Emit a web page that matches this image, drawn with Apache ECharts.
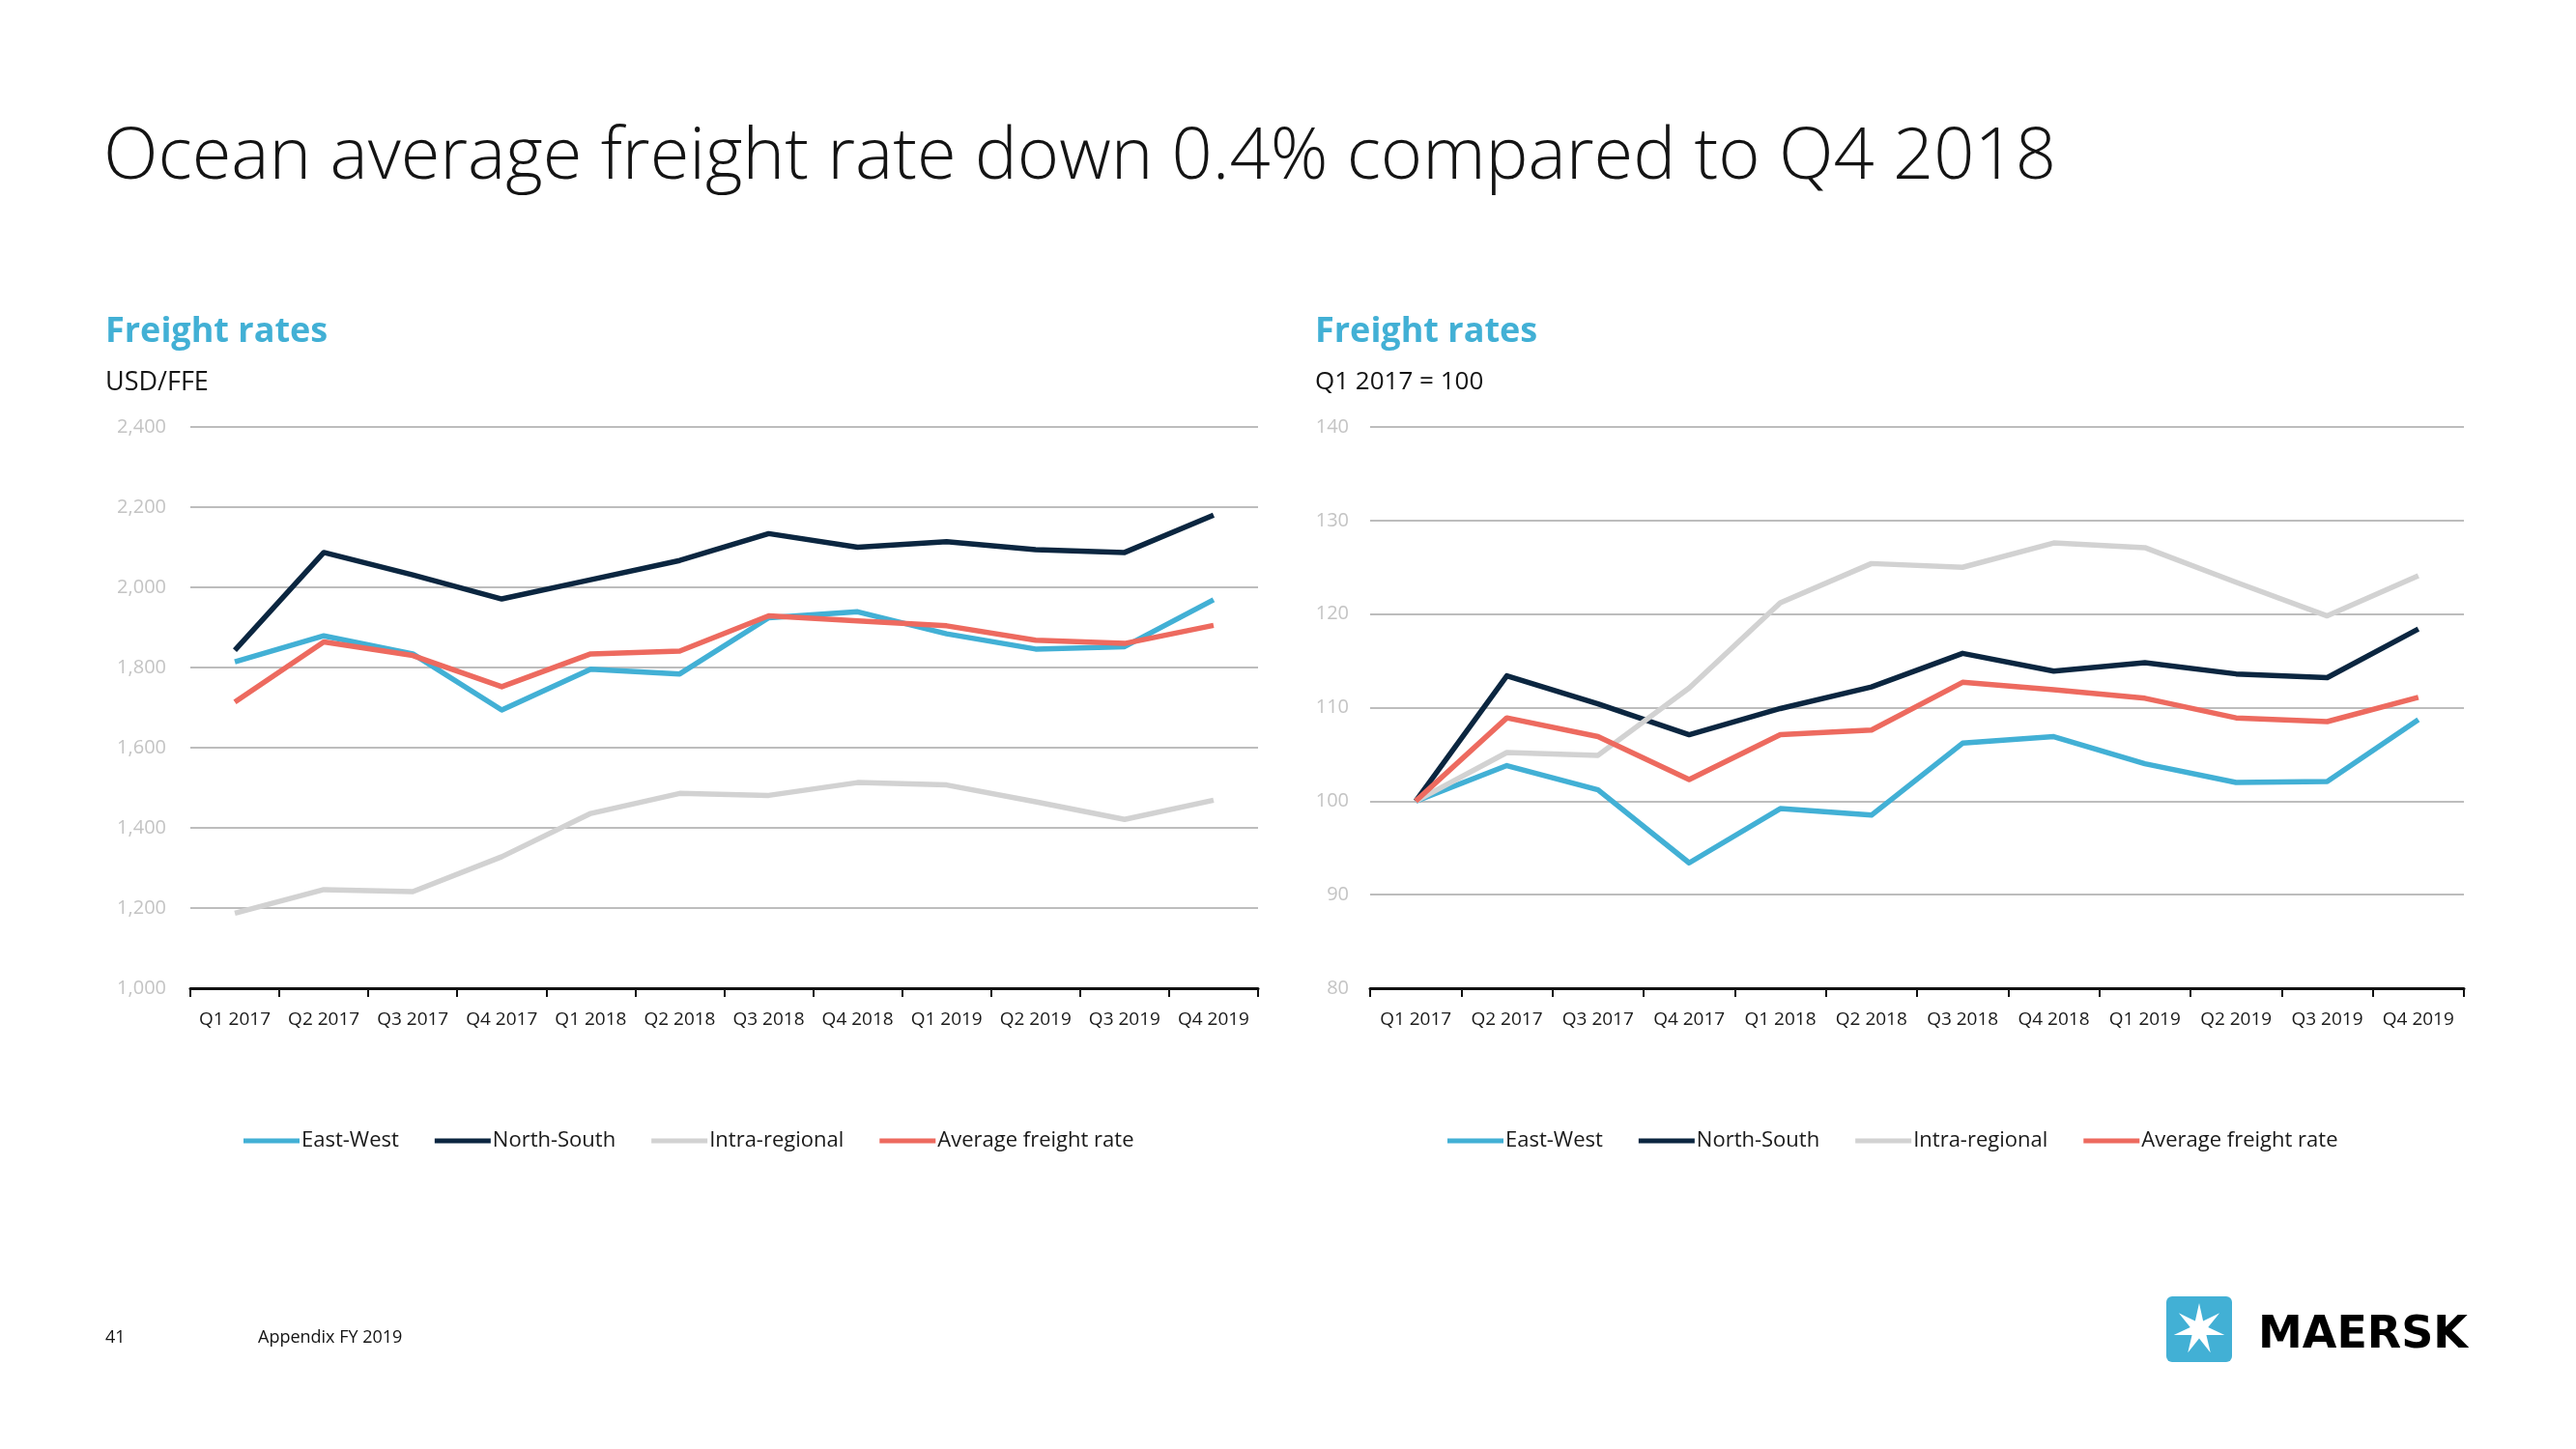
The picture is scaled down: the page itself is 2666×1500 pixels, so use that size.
<!DOCTYPE html>
<html>
<head>
<meta charset="utf-8">
<script src="https://cdn.jsdelivr.net/npm/echarts@6/dist/echarts.min.js"></script>
<style>
html,body{margin:0;padding:0;background:#fff;}
#chart{width:2666px;height:1500px;}
</style>
</head>
<body>
<div id="chart"></div>
<script>
const categories = ['Q1 2017','Q2 2017','Q3 2017','Q4 2017','Q1 2018','Q2 2018','Q3 2018','Q4 2018','Q1 2019','Q2 2019','Q3 2019','Q4 2019'];

// Left chart: USD/FFE
const usdEastWest    = [1814,1879,1834,1694,1796,1784,1924,1939,1884,1846,1852,1969];
const usdNorthSouth  = [1843,2087,2031,1971,2019,2067,2134,2100,2114,2094,2087,2180];
const usdIntra       = [1187,1246,1241,1328,1436,1486,1481,1513,1507,1465,1421,1469];
const usdAverage     = [1714,1864,1830,1752,1834,1841,1929,1916,1904,1868,1860,1905];

// Right chart: index Q1 2017 = 100
const idxEastWest    = [100,103.8,101.2,93.4,99.2,98.5,106.2,106.9,104.0,102.0,102.1,108.7];
const idxNorthSouth  = [100,113.4,110.4,107.1,109.9,112.2,115.8,113.9,114.8,113.6,113.2,118.4];
const idxIntra       = [100,105.2,104.9,112.1,121.2,125.4,125.0,127.6,127.1,123.4,119.8,124.1];
const idxAverage     = [100,108.9,106.9,102.3,107.1,107.6,112.7,111.9,111.0,108.9,108.5,111.1];

const seriesNames = ['East-West','North-South','Intra-regional','Average freight rate'];
const colors = ['#42b0d5','#0b2640','#d2d2d2','#ed6a5f'];

const FONT = '"Open Sans", "Noto Sans", sans-serif';

function mkX(gridIndex){
  return {
    type:'category', gridIndex, data:categories, boundaryGap:true,
    axisLine:{show:true,lineStyle:{color:'#111',width:3}},
    axisTick:{show:true,length:9,lineStyle:{color:'#111',width:2}},
    axisLabel:{color:'#1a1a1a',fontSize:19,fontFamily:FONT,margin:23,interval:0},
    splitLine:{show:false}
  };
}
function mkY(gridIndex,min,max,interval,fmt,margin){
  return {
    type:'value', gridIndex, min, max, interval,
    axisLine:{show:false}, axisTick:{show:false},
    axisLabel:{color:'#c4c4c4',fontSize:20,fontFamily:FONT,margin,formatter:fmt},
    splitLine:{show:true,lineStyle:{color:'#bdbdbd',width:2}}
  };
}
function mkSeries(name,data,color,idx){
  return {
    name, type:'line', data, xAxisIndex:idx, yAxisIndex:idx,
    showSymbol:false, symbol:'none', smooth:false,
    lineStyle:{color,width:5.5,join:'round'}, itemStyle:{color},
    z: 3, animation:false
  };
}

// Maersk star polygon (decoration)
const starPts = [];
(function(){
  const cx=2276, cy=1376, R=27, r=9.5;
  for(let i=0;i<14;i++){
    const a = -Math.PI/2 + i*Math.PI/7;
    const rad = (i%2===0)?R:r;
    starPts.push([cx+rad*Math.cos(a), cy+rad*Math.sin(a)]);
  }
})();

const legendCommon = {top:1165,icon:'rect',itemWidth:58,itemHeight:5,itemGap:37,
  textStyle:{color:'#1a1a1a',fontSize:22,fontFamily:FONT,padding:[0,0,0,-3]},data:seriesNames};

const option = {
  backgroundColor:'#fff',
  animation:false,
  color:colors,
  grid:[
    {left:197,right:1364,top:442,bottom:477,containLabel:false},
    {left:1418,right:116,top:442,bottom:477,containLabel:false}
  ],
  xAxis:[mkX(0),mkX(1)],
  yAxis:[
    mkY(0,1000,2400,200,v=>v.toLocaleString('en-US'),25),
    mkY(1,80,140,10,v=>String(v),22)
  ],
  legend:[
    Object.assign({left:247},legendCommon),
    Object.assign({left:1493},legendCommon)
  ],
  series:[
    mkSeries(seriesNames[0],usdEastWest,colors[0],0),
    mkSeries(seriesNames[1],usdNorthSouth,colors[1],0),
    mkSeries(seriesNames[2],usdIntra,colors[2],0),
    mkSeries(seriesNames[3],usdAverage,colors[3],0),
    mkSeries(seriesNames[0],idxEastWest,colors[0],1),
    mkSeries(seriesNames[1],idxNorthSouth,colors[1],1),
    mkSeries(seriesNames[2],idxIntra,colors[2],1),
    mkSeries(seriesNames[3],idxAverage,colors[3],1)
  ],
  graphic:[
    {type:'text',left:107,top:127,style:{text:'Ocean average freight rate down 0.4% compared to Q4 2018',fill:'#141414',font:'300 74px '+FONT,textVerticalAlign:'middle'}},
    {type:'text',left:109,top:326,style:{text:'Freight rates',fill:'#42b0d5',font:'bold 36px '+FONT,textVerticalAlign:'middle'}},
    {type:'text',left:109,top:383,style:{text:'USD/FFE',fill:'#141414',font:'27px '+FONT,textVerticalAlign:'middle'}},
    {type:'text',left:1361,top:326,style:{text:'Freight rates',fill:'#42b0d5',font:'bold 36px '+FONT,textVerticalAlign:'middle'}},
    {type:'text',left:1361,top:383,style:{text:'Q1 2017 = 100',fill:'#141414',font:'26px '+FONT,textVerticalAlign:'middle'}},
    {type:'text',left:109,top:1376,style:{text:'41',fill:'#141414',font:'18px '+FONT,textVerticalAlign:'middle'}},
    {type:'text',left:267,top:1376,style:{text:'Appendix FY 2019',fill:'#141414',font:'18px '+FONT,textVerticalAlign:'middle'}},
    {type:'rect',shape:{x:2242,y:1342,width:68,height:68,r:6},style:{fill:'#42b0d5'}},
    {type:'polygon',shape:{points:starPts},style:{fill:'#ffffff'}},
    {type:'text',left:2337,top:1360,style:{text:'MAERSK',fill:'#000',font:'bold 46px "DejaVu Sans", sans-serif',textVerticalAlign:'middle'}}
  ]
};

const chart = echarts.init(document.getElementById('chart'),null,{renderer:'canvas'});
chart.setOption(option);
</script>
</body>
</html>
